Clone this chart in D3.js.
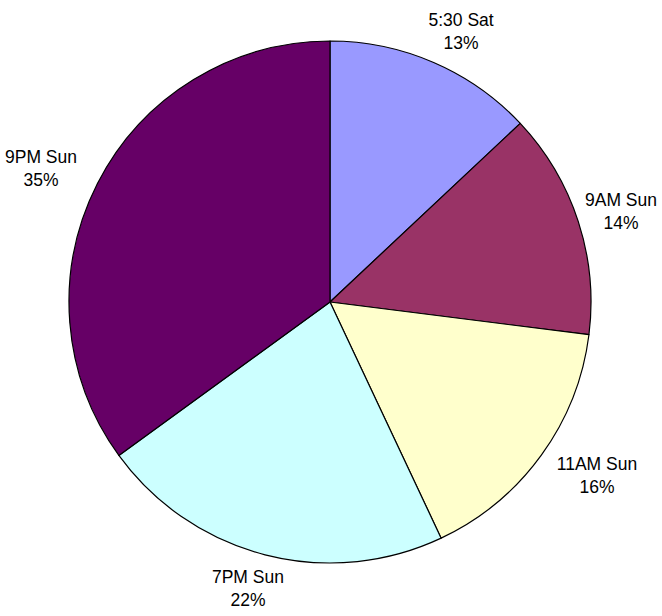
<!DOCTYPE html>
<html>
<head>
<meta charset="utf-8">
<script src="https://cdn.jsdelivr.net/npm/d3@7/dist/d3.min.js"></script>
<style>
  html, body { margin: 0; padding: 0; background: #fff; }
  svg { display: block; }
  text { font-family: "Liberation Sans", Arial, sans-serif; font-size: 17.5px; fill: #000; }
</style>
</head>
<body>
<svg id="chart" width="662" height="616"></svg>
<script>
// Share of viewers by time slot
const categories = ["5:30 Sat", "9AM Sun", "11AM Sun", "7PM Sun", "9PM Sun"];
const values = [13, 14, 16, 22, 35];
const colors = ["#9999FF", "#993366", "#FFFFCC", "#CCFFFF", "#660066"];

const W = 662, H = 616;
const cx = 330, cy = 302, radius = 261;

const svg = d3.select("#chart");
const g = svg.append("g").attr("transform", `translate(${cx},${cy})`);

const pie = d3.pie().sort(null).value(d => d.value);
const arcs = pie(categories.map((c, i) => ({ name: c, value: values[i], color: colors[i] })));
const arc = d3.arc().innerRadius(0).outerRadius(radius);

g.selectAll("path.slice")
  .data(arcs)
  .join("path")
  .attr("class", "slice")
  .attr("d", arc)
  .attr("fill", d => d.data.color)
  .attr("stroke", "#000")
  .attr("stroke-width", 1.2)
  .attr("stroke-linejoin", "round");

// Labels sit outside the rim on each slice's mid-angle (elliptical offset),
// then are kept inside the drawing area.
const total = d3.sum(values);
const fmt = v => Math.round(v / total * 100) + "%";
const rx = 330, ry = 295, lineH = 23, margin = 5;

const labels = g.selectAll("text.label")
  .data(arcs)
  .join("text")
  .attr("class", "label")
  .attr("text-anchor", "middle");

labels.each(function(d) {
  const t = d3.select(this);
  t.append("tspan").attr("x", 0).attr("y", 0).text(d.data.name);
  t.append("tspan").attr("x", 0).attr("y", lineH).text(fmt(d.data.value));
});

labels.each(function(d) {
  const a = (d.startAngle + d.endAngle) / 2;
  let x = Math.sin(a) * rx;
  let y = -Math.cos(a) * ry;
  const w = this.getBBox().width;
  const minX = -cx + margin + w / 2, maxX = W - cx - margin - w / 2;
  x = Math.max(minX, Math.min(maxX, x));
  // baseline of first line so that the two-line block is centred on y
  const b1 = y - 5;
  d3.select(this).selectAll("tspan")
    .attr("x", x)
    .attr("y", (_, i) => b1 + i * lineH);
});
</script>
</body>
</html>
